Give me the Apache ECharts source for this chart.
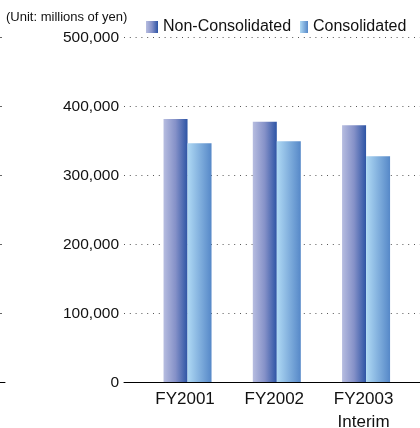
<!DOCTYPE html>
<html>
<head>
<meta charset="utf-8">
<script src="https://cdn.jsdelivr.net/npm/echarts@6/dist/echarts.min.js"></script>
<style>
  html, body { margin: 0; padding: 0; background: #fff; }
  #chart { width: 420px; height: 428px; }
</style>
</head>
<body>
<div id="chart"></div>
<script>
// Fiscal-year categories and values (millions of yen)
const categories = ['FY2001', 'FY2002', 'FY2003\nInterim'];
const nonConsolidated = [382000, 378000, 373000];
const consolidated = [347000, 350000, 328000];
const yTicks = [0, 100000, 200000, 300000, 400000, 500000];
const unitNote = '(Unit: millions of yen)';

const FONT = '"Liberation Sans", Arial, sans-serif';
const yMin = yTicks[0];
const yMax = yTicks[yTicks.length - 1];
const yStep = yTicks[1] - yTicks[0];

const nonGrad = {
  type: 'linear', x: 0, y: 0, x2: 1, y2: 0,
  colorStops: [
    { offset: 0, color: '#b7bde0' },
    { offset: 0.5, color: '#8591c8' },
    { offset: 1, color: '#2d54a5' }
  ]
};
const conGrad = {
  type: 'linear', x: 0, y: 0, x2: 1, y2: 0,
  colorStops: [
    { offset: 0, color: '#afd9f4' },
    { offset: 1, color: '#5688c8' }
  ]
};

const fmt = v => v.toLocaleString('en-US');
const TOP = 37.7, BOTTOM = 45.5;
const legendText = { fontSize: 16, color: '#111', fontFamily: FONT };

const chart = echarts.init(document.getElementById('chart'), null, { renderer: 'canvas' });
chart.setOption({
  animation: false,
  backgroundColor: '#fff',
  textStyle: { fontFamily: FONT },
  title: {
    text: unitNote,
    left: 6, top: 11, padding: 0,
    textStyle: { fontSize: 13, fontWeight: 'normal', color: '#111', fontFamily: FONT }
  },
  legend: [
    {
      data: ['Non-Consolidated'],
      left: 146, top: 19, padding: 0,
      itemWidth: 12, itemHeight: 12, icon: 'rect',
      textStyle: legendText
    },
    {
      data: ['Consolidated'],
      left: 300, top: 19, padding: 0,
      itemWidth: 8, itemHeight: 12, icon: 'rect',
      textStyle: legendText
    }
  ],
  grid: [
    // scale, dotted guides and baseline
    { left: 124, right: 0, top: TOP, bottom: BOTTOM, outerBoundsMode: 'none' },
    // bar area
    { left: 142.9, width: 267.8, top: TOP, bottom: BOTTOM, outerBoundsMode: 'none' },
    // short guide stubs at the far left
    { left: 0, width: 5, top: TOP, bottom: BOTTOM, outerBoundsMode: 'none' }
  ],
  xAxis: [
    {
      gridIndex: 0, type: 'category', data: [''], z: 5,
      axisLine: { show: true, lineStyle: { color: '#000', width: 1 } },
      axisTick: { show: false }, axisLabel: { show: false }, splitLine: { show: false }
    },
    {
      gridIndex: 1, type: 'category', data: categories,
      axisLine: { show: false }, axisTick: { show: false },
      axisLabel: {
        fontSize: 17, color: '#111', fontFamily: FONT, margin: 5,
        lineHeight: 23, padding: [0, 5, 0, 0]
      }
    },
    {
      gridIndex: 2, type: 'category', data: [''],
      axisLine: { show: true, lineStyle: { color: '#000', width: 1 } },
      axisTick: { show: false }, axisLabel: { show: false }
    }
  ],
  yAxis: [
    {
      gridIndex: 0, type: 'value', min: yMin, max: yMax, interval: yStep,
      axisLine: { show: false }, axisTick: { show: false },
      axisLabel: {
        fontSize: 15.5, color: '#111', fontFamily: FONT, margin: 5,
        formatter: v => fmt(v)
      },
      splitLine: { show: true, lineStyle: { color: '#555', width: 1, type: [1, 4.8] } }
    },
    {
      gridIndex: 1, type: 'value', min: yMin, max: yMax, interval: yStep, show: false
    },
    {
      gridIndex: 2, type: 'value', min: yMin, max: yMax, interval: yStep,
      axisLine: { show: false }, axisTick: { show: false }, axisLabel: { show: false },
      splitLine: { show: true, lineStyle: { color: '#666', width: 1, type: [2, 10] } }
    }
  ],
  series: [
    {
      name: 'Non-Consolidated', type: 'bar', xAxisIndex: 1, yAxisIndex: 1,
      data: nonConsolidated, barWidth: 24, barGap: '0%',
      itemStyle: { color: nonGrad }
    },
    {
      name: 'Consolidated', type: 'bar', xAxisIndex: 1, yAxisIndex: 1,
      data: consolidated, barWidth: 24, barGap: '0%',
      itemStyle: { color: conGrad }
    }
  ]
});
</script>
</body>
</html>
